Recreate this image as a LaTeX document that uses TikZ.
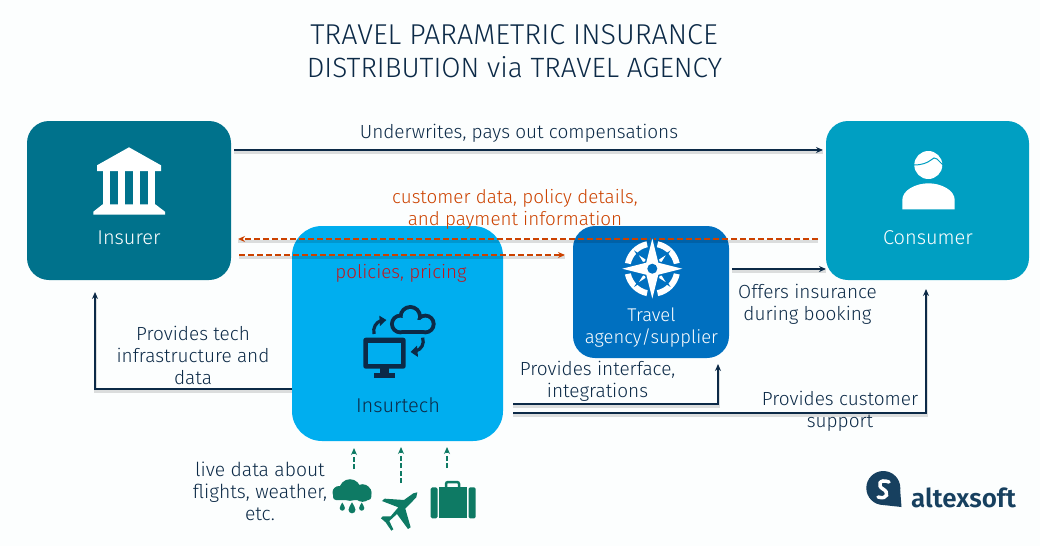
\documentclass[tikz,border=0pt]{standalone}
\usepackage{fontspec}
\setmainfont{Fira Sans Light}[BoldFont=Fira Sans SemiBold]
\usetikzlibrary{arrows.meta,calc}
\definecolor{bgc}{HTML}{FCFEFE}
\definecolor{navy}{HTML}{0C2A47}
\definecolor{insc}{HTML}{00728C}
\definecolor{conc}{HTML}{009FC2}
\definecolor{itc}{HTML}{00AEEF}
\definecolor{trc}{HTML}{0070C0}
\definecolor{redd}{HTML}{CC4200}
\definecolor{redp}{HTML}{C0181E}
\definecolor{grn}{HTML}{0E7A64}
\definecolor{logoc}{HTML}{17405F}
\tikzset{
  card/.style={inner sep=0pt,outer sep=0pt,draw=none},
  lbl/.style={text=navy,align=center,font=\fontsize{19}{22}\selectfont,inner sep=0pt},
  cardlbl/.style={text=white,align=center,font=\fontsize{20}{22}\selectfont,inner sep=0pt},
  shd/.style={preaction={draw=black,draw opacity=.13,line width=3pt,-,transform canvas={yshift=-2.5pt}}},
  conn/.style={draw=navy,line width=1.6pt,-{Stealth[length=7pt,width=6pt]},shd},
  rconn/.style={draw=redd,line width=1.6pt,dash pattern=on 6pt off 3pt,-{Stealth[length=7pt,width=6pt]},shd},
  gconn/.style={draw=grn,line width=1.6pt,dash pattern=on 5pt off 2.5pt,-{Stealth[length=7pt,width=6pt]}},
  zoomA/.style={shift={(290,220)},x=.3333pt,y=-.3333pt},
  zoomB/.style={shift={(180,440)},x=.3333pt,y=-.3333pt},
}
\begin{document}
\begin{tikzpicture}[x=1pt,y=-1pt]
\useasboundingbox (0,0) rectangle (1040,546);
\fill[bgc] (0,0) rectangle (1040,546);
% cards
\node[card,fill=insc,minimum width=204pt,minimum height=159pt,rounded corners=22pt] (insurer) at (129,200.5) {};
\node[card,fill=conc,minimum width=203pt,minimum height=159pt,rounded corners=22pt] (consumer) at (927.5,200.5) {};
\node[card,fill=itc,minimum width=211pt,minimum height=215pt,rounded corners=30pt] (insurtech) at (397.5,333.5) {};
\node[card,fill=trc,minimum width=156pt,minimum height=132pt,rounded corners=22pt] (travel) at (651,292) {};
% title
\node[lbl,font=\fontsize{28.7}{32}\selectfont] (title) at (514,35) {TRAVEL PARAMETRIC INSURANCE};
\node[lbl,font=\fontsize{27.9}{32}\selectfont] (title2) at (514.5,67.5) {DISTRIBUTION via TRAVEL AGENCY};
% card labels
\node[cardlbl] (linsurer) at (129,237.5) {Insurer};
\node[cardlbl] (lconsumer) at (928,237.5) {Consumer};
\node[lbl,font=\fontsize{20}{22}\selectfont] (linsurtech) at (398,405) {Insurtech};
\node[cardlbl,font=\fontsize{18.4}{22}\selectfont] (ltravel) at (651.5,327.5) {Travel\\agency/supplier};
% connector labels
\node[lbl] (l1) at (519,133) {Underwrites, pays out compensations};
\node[lbl,text=redd,font=\fontsize{18.8}{22}\selectfont] (l2) at (515,209.5) {customer data, policy details,\\and payment information};
\node[lbl,text=redp,font=\fontsize{18.8}{22}\selectfont] (l3) at (401,273.5) {policies, pricing};
\node[lbl] (l4) at (193,355.5) {Provides tech\\infrastructure and\\data};
\node[lbl] (l5) at (807.5,304) {Offers insurance\\during booking};
\node[lbl] (l6) at (597.5,381.5) {Provides interface,\\integrations};
\node[lbl] (l7) at (840,411.5) {Provides customer\\support};
\node[lbl,font=\fontsize{19.3}{22}\selectfont] (l8) at (260,491.5) {live data about\\flights, weather,\\etc.};
% connectors
\draw[conn,shorten <=3pt,shorten >=3pt] ([yshift=50.5pt]insurer.east) -- ([yshift=50.5pt]consumer.west);
\draw[rconn,shorten <=8pt,shorten >=7pt] ([yshift=-38.5pt]consumer.west) -- ([yshift=-38.5pt]insurer.east);
\draw[rconn,shorten <=8pt,shorten >=8pt] ([yshift=-54.5pt]insurer.east) -- (travel.west |- 0,255);
\draw[conn,shorten <=3pt] (travel.east |- 0,269) -- (consumer.west |- 0,269);
\coordinate (a1) at (95,389);
\coordinate (a1e) at (95,292);
\draw[conn] (insurtech.west |- a1) -- (a1) -- (a1e);
\coordinate (a2) at (718,404);
\coordinate (a2e) at (718,364);
\draw[conn,shorten <=10pt] (insurtech.east |- a2) -- (a2) -- (a2e);
\coordinate (a3) at (926,413);
\coordinate (a3e) at (926,289);
\draw[conn,shorten <=10pt] (insurtech.east |- a3) -- (a3) -- (a3e);
\coordinate (g1) at (354,469); \coordinate (g2) at (401,483); \coordinate (g3) at (447,468);
\draw[gconn,shorten >=7pt] (g1) -- (g1 |- insurtech.south);
\draw[gconn,shorten >=6pt] (g2) -- (g2 |- insurtech.south);
\draw[gconn,shorten >=6pt] (g3) -- (g3 |- insurtech.south);
% bank icon
\fill[white] (129,147.3) -- (161,165.3) -- (161,171) -- (97,171) -- (97,165.3) -- cycle;
\fill[white] (102.7,170) rectangle (110.3,205);
\fill[white] (117.7,170) rectangle (125,205);
\fill[white] (132.7,170) rectangle (140,205);
\fill[white] (147.7,170) rectangle (155.3,205);
\fill[white] (102.7,204.3) -- (155.3,204.3) -- (165,211.7) -- (165,214.7) -- (93.3,214.7) -- (93.3,211.7) -- cycle;
% person icon
\fill[white] (928.3,165) circle (14);
\draw[conc,line width=1pt] (913.5,165) .. controls (922,165) and (927,163) .. (931,160) .. controls (933,158) and (935,157) .. (937,159) -- (943,165);
\fill[white] (902.3,209.3) -- (902.3,200) .. controls (902.3,190) and (916,183.3) .. (928.5,183.3) .. controls (941,183.3) and (954.7,190) .. (954.7,200) -- (954.7,209.3) -- cycle;
% compass icon
\begin{scope}[shift={(652.3,268.7)}]
\foreach \a in {45,135,225,315}{
  \fill[white] (\a-33:28) arc[start angle=\a-33,end angle=\a+33,radius=28] -- (\a+33:22) arc[start angle=\a+33,end angle=\a-33,radius=22] -- cycle;
}
\foreach \a in {45,135,225,315}{
  \draw[trc,line width=3pt] (\a-24:7) -- (\a:19) -- (\a+24:7) -- cycle;
  \fill[white] (\a-24:7) -- (\a:19) -- (\a+24:7) -- cycle;
}
\draw[trc,line width=3pt] (0,-30) -- (6,-6) -- (30,0) -- (6,6) -- (0,30) -- (-6,6) -- (-30,0) -- (-6,-6) -- cycle;
\fill[white] (0,-30) -- (6,-6) -- (30,0) -- (6,6) -- (0,30) -- (-6,6) -- (-30,0) -- (-6,-6) -- cycle;
\fill[trc] (0,0) circle (5);
\end{scope}
% insurtech icon
\fill[navy,rounded corners=2.5pt] (363.3,337.7) rectangle (405.7,368.7);
\fill[itc] (367.7,343.3) rectangle (401,364);
\fill[navy] (380,368) rectangle (389,373);
\fill[navy] (374,372.7) rectangle (395.3,377.5);
\begin{scope}[zoomA]
\fill[navy] (331,312) circle (31) (406,312) circle (31) (361,290) circle (35);
\fill[navy] (331,312) rectangle (406,343);
\fill[itc] (331,312) circle (19) (406,312) circle (19) (361,290) circle (23);
\fill[itc] (331,300) rectangle (406,331);
\draw[navy,line width=3.2pt] (252,342) .. controls (248,322) and (258,308) .. (272,302);
\fill[navy] (268,287) -- (289,300) -- (270,318) -- cycle;
\draw[navy,line width=3.2pt] (398,353) .. controls (404,372) and (394,388) .. (378,393);
\fill[navy] (362,396) -- (381,377) -- (384,411) -- cycle;
\end{scope}
% rain cloud
\fill[grn] (339,492.5) circle (6.5);
\fill[grn] (350,490) circle (10.8);
\fill[grn] (362.5,493) circle (8.8);
\fill[grn,rounded corners=3pt] (333,488) rectangle (371.3,500);
\foreach \x/\y/\s in {342.3/507.5/1,352/509/1.35,361.7/507.5/1}{
  \fill[grn,shift={(\x,\y)},scale=\s] (0,-5) .. controls (1,-2.5) and (2.6,-1.5) .. (2.6,0.6) arc[start angle=0,end angle=180,radius=2.6] .. controls (-2.6,-1.5) and (-1,-2.5) .. (0,-5) -- cycle;
}
% plane
\begin{scope}[zoomB]
\fill[grn] (712,157) -- (709,172) -- (676,206) -- (692,262) -- (684,267) -- (651,222) -- (628,243) -- (640,268) -- (634,272) -- (617,247) -- (603,235) -- (608,229) -- (632,229) -- (655,202) -- (606,183) -- (614,176) -- (672,180) -- (700,160) -- cycle;
\end{scope}
% suitcase
\fill[grn,rounded corners=1.5pt] (430.7,487.3) rectangle (437.5,518.3);
\fill[grn,rounded corners=1.5pt] (468.5,487.3) rectangle (475.7,518.3);
\fill[grn] (439,487.3) rectangle (467,518.3);
\draw[grn,line width=2.5pt,rounded corners=2pt] (446,487) -- (446,482) -- (459,482) -- (459,487);
% logo
\fill[logoc] (883.3,488) circle (17);
\fill[logoc] (883,505) -- (901.5,507) -- (900,488) -- cycle;
\draw[white,line width=3.5pt,line cap=round] (889,482) .. controls (879,478) and (877,486) .. (883,489) .. controls (889,492) and (888,500) .. (878,497);
\node[inner sep=0pt,text=logoc,font=\fontsize{26}{28}\bfseries\selectfont,anchor=base west] (logo) at (911,507) {altexsoft};
\end{tikzpicture}
\end{document}
